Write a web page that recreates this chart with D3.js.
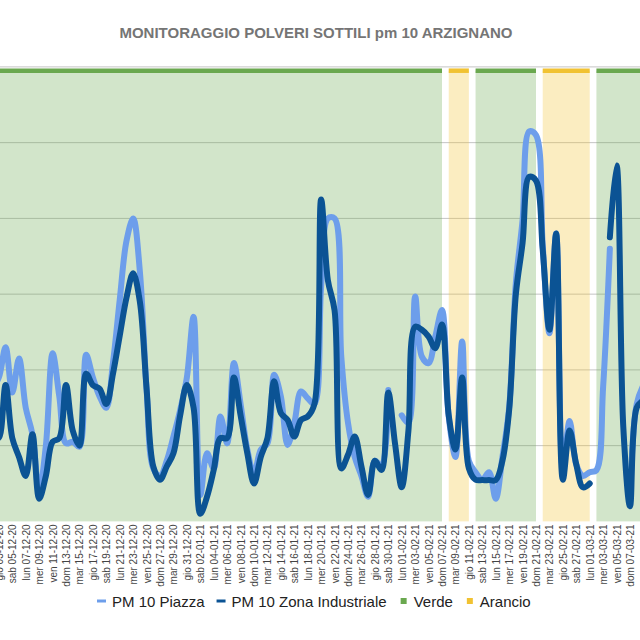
<!DOCTYPE html>
<html>
<head>
<meta charset="utf-8">
<script src="https://cdn.jsdelivr.net/npm/d3@7"></script>
<style>
  body { margin: 0; background: #fff; }
  text { font-family: Arial, "Liberation Sans", sans-serif; }
</style>
</head>
<body>
<div id="chart"></div>
<script>
// Data (daily values, 02-12-2020 .. 09-03-2021)
const firstDay = "2020-12-02";
const lastDay = "2021-03-09";

const piazza = [
  35, 38, 46, 34, 43, 30, 23, 8, 20, 44.4,
  33, 20.6, 21, 19.7, 44, 38, 33, 30, 42, 58.5,
  74, 80, 66, 35, 14, 12, 16, 22.4, 29.4, 38,
  54, 7, 18, 14, 27.7, 20.6, 41.8, 31, 19, 12.5,
  18.9, 20.6, 38.7, 33, 20.2, 25.9, 34.3, 32.5, 31, 62,
  80, 80, 43.5, 26, 17, 12, 6.5, 16, 14.5, 34.7,
  null, 28, 26, 59.4, 43.5, 41.8, 48.8, 55.8, 27.7, 17,
  47.5, 16, 13, 11, 13, 6, 17, 30, 63, 79.6,
  103, 102, 73, 49.7, 76, 14, 26.5, 15, 12, 13,
  13.5, 35.6, 72, null, null, 5, 31, 36
];

const industriale = [
  25, 22, 36, 22, 17, 12, 23, 6, 12, 21,
  22, 36, 24, 20, 39, 36, 35, 31, 39, 49,
  59, 65.5, 58, 35, 14.5, 11, 14.5, 18, 28, 36,
  30, 2, 6.5, 13.6, 22, 22, 38, 28, 18, 10,
  17, 22, 37, 28.6, 26.8, 22.4, 26.8, 27.7, 31, 85,
  63.7, 55.7, 14, 17.6, 22.4, 14.5, 7, 16, 13.6, 34,
  20.6, 9, 24, 51.4, 50.6, 48.8, 45.7, 52, 28, 19,
  38, 14, 11, 10.9, 10.9, 10.9, 16, 29.4, 60, 73.5,
  91, 90, 71.7, 50.6, 76, 11, 24, 15, 9, 10,
  null, null, 75, 94, 25, 4, 30, 32
];

// colour bands (zone)
const bandFrom = ["2020-12-02", "2021-02-08", "2021-02-12", "2021-02-22", "2021-03-02"];
const bandTo = ["2021-02-06", "2021-02-10", "2021-02-20", "2021-02-28", "2021-03-09"];
const bandLevel = ["Verde", "Arancio", "Verde", "Arancio", "Verde"];
const bandValue = 119;

const yTicks = [0, 20, 40, 60, 80, 100, 120];

// Style
const size = { width: 640, height: 640 };
const colors = {
  piazza: "#6d9eeb",
  industriale: "#0b5394",
  Verde: "#6aa84f",
  Arancio: "#f1c232"
};

const parse = d3.timeParse("%Y-%m-%d");
const days = d3.timeDay.range(parse(firstDay), d3.timeDay.offset(parse(lastDay), 1));
const rows = days.map((d, i) => ({ date: d, piazza: piazza[i], industriale: industriale[i] }));

const it = d3.timeFormatLocale({
  dateTime: "%A %e %B %Y, %X",
  date: "%d/%m/%Y",
  time: "%H:%M:%S",
  periods: ["AM", "PM"],
  days: ["domenica", "lunedì", "martedì", "mercoledì", "giovedì", "venerdì", "sabato"],
  shortDays: ["dom", "lun", "mar", "mer", "gio", "ven", "sab"],
  months: ["gennaio", "febbraio", "marzo", "aprile", "maggio", "giugno", "luglio", "agosto", "settembre", "ottobre", "novembre", "dicembre"],
  shortMonths: ["gen", "feb", "mar", "apr", "mag", "giu", "lug", "ago", "set", "ott", "nov", "dic"]
});
const fmt = it.format("%a %d-%m-%y");

const svg = d3.select("#chart").append("svg")
  .attr("width", size.width)
  .attr("height", size.height);

// Scales (the plot area is wider than the picture: it is cut at both sides)
const x = d3.scaleTime()
  .domain([parse("2020-12-05"), parse("2021-03-07")])
  .range([12.3, 630]);
const y = d3.scaleLinear().domain([0, 120]).range([521.4, 66.9]);

// grid
svg.append("g")
  .selectAll("line")
  .data(yTicks.slice(1))
  .join("line")
  .attr("x1", 0).attr("x2", size.width)
  .attr("y1", d => y(d)).attr("y2", d => y(d))
  .attr("stroke", "#c4c4c4").attr("stroke-width", 1);

// bands
const bands = bandFrom.map((f, i) => ({
  x0: x(parse(f)),
  x1: x(d3.timeDay.offset(parse(bandTo[i]), 1)),
  level: bandLevel[i]
}));

svg.append("g")
  .selectAll("rect")
  .data(bands)
  .join("rect")
  .attr("x", d => d.x0)
  .attr("width", d => d.x1 - d.x0)
  .attr("y", y(bandValue))
  .attr("height", y(0) - y(bandValue))
  .attr("fill", d => colors[d.level])
  .attr("fill-opacity", 0.3);

svg.append("g")
  .selectAll("line")
  .data(bands)
  .join("line")
  .attr("x1", d => d.x0).attr("x2", d => d.x1)
  .attr("y1", y(bandValue)).attr("y2", y(bandValue))
  .attr("stroke", d => colors[d.level])
  .attr("stroke-width", 4.5);

// x axis: a label every 2 days (the first one is cut by the left edge, as in the picture)
const tickDays = d3.timeDay.range(parse("2020-12-03"), parse("2021-03-08"), 2);

const xAxis = svg.append("g")
  .attr("transform", `translate(0,${y(0)})`)
  .call(d3.axisBottom(x).tickValues(tickDays).tickFormat(fmt).tickSize(0));
xAxis.select(".domain").remove();
xAxis.selectAll("text")
  .attr("transform", "rotate(-90)")
  .attr("text-anchor", "end")
  .attr("x", -3)
  .attr("y", 0)
  .attr("dy", "0.35em")
  .attr("fill", "#444")
  .style("font-size", "10px");

// lines
const line = key => d3.line()
  .defined(d => d[key] != null)
  .x(d => x(d.date))
  .y(d => y(d[key]))
  .curve(d3.curveCatmullRom.alpha(0.5));

svg.append("path")
  .datum(rows)
  .attr("d", line("piazza"))
  .attr("fill", "none")
  .attr("stroke", colors.piazza)
  .attr("stroke-width", 6)
  .attr("stroke-linejoin", "round")
  .attr("stroke-linecap", "round");

svg.append("path")
  .datum(rows)
  .attr("d", line("industriale"))
  .attr("fill", "none")
  .attr("stroke", colors.industriale)
  .attr("stroke-width", 6)
  .attr("stroke-linejoin", "round")
  .attr("stroke-linecap", "round");

// Title
svg.append("text")
  .attr("x", 316)
  .attr("y", 38)
  .attr("text-anchor", "middle")
  .attr("fill", "#757575")
  .style("font-size", "15px")
  .style("font-weight", "bold")
  .text("MONITORAGGIO POLVERI SOTTILI pm 10 ARZIGNANO");

// Legend
const legendItems = [
  { label: "PM 10 Piazza", color: colors.piazza, type: "line" },
  { label: "PM 10 Zona Industriale", color: colors.industriale, type: "line" },
  { label: "Verde", color: colors.Verde, type: "square" },
  { label: "Arancio", color: colors.Arancio, type: "square" }
];

const legend = svg.append("g").attr("transform", "translate(0,601)");
let lx = 97;
legendItems.forEach(item => {
  if (item.type === "line") {
    legend.append("line")
      .attr("x1", lx).attr("x2", lx + 9)
      .attr("y1", 0).attr("y2", 0)
      .attr("stroke", item.color).attr("stroke-width", 3);
  } else {
    legend.append("rect")
      .attr("x", lx + 2).attr("y", -3)
      .attr("width", 6).attr("height", 6)
      .attr("fill", item.color);
  }
  const t = legend.append("text")
    .attr("x", lx + 15)
    .attr("y", 5.5)
    .attr("fill", "#222")
    .style("font-size", "15px")
    .text(item.label);
  lx += 15 + t.node().getComputedTextLength() + 12;
});
</script>
</body>
</html>
